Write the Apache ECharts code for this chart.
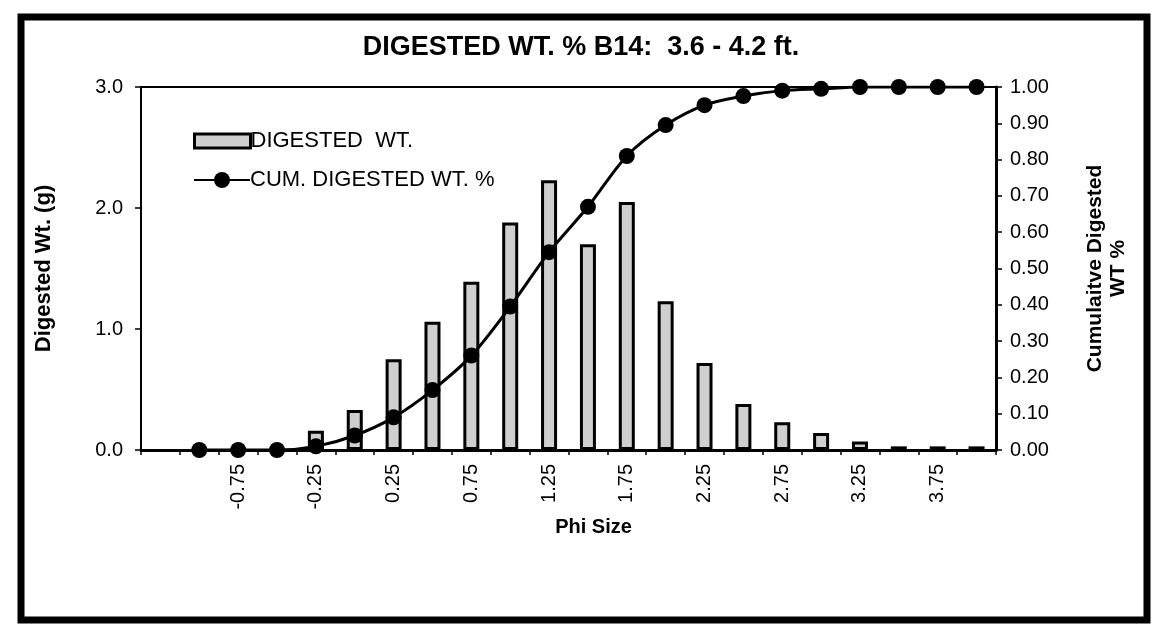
<!DOCTYPE html>
<html>
<head>
<meta charset="utf-8">
<script src="https://cdn.jsdelivr.net/npm/echarts@6/dist/echarts.min.js"></script>
<style>
html,body{margin:0;padding:0;background:#fff;}
#c{width:1160px;height:629px;}
</style>
</head>
<body>
<div id="c"></div>
<script>
// Phi size categories (first band is an empty category as in the source chart)
const categories = ['', '-1.00', '-0.75', '-0.50', '-0.25', '0.00', '0.25', '0.50', '0.75', '1.00', '1.25',
  '1.50', '1.75', '2.00', '2.25', '2.50', '2.75', '3.00', '3.25', '3.50', '3.75', '4.00'];
// Digested weight (g)
const digestedWt = [null, 0, 0, 0, 0.16, 0.33, 0.75, 1.06, 1.39, 1.88, 2.23,
  1.70, 2.05, 1.23, 0.72, 0.38, 0.23, 0.14, 0.07, 0.03, 0.03, 0.03];
// Cumulative digested weight fraction
const cumDigested = [null, 0, 0, 0, 0.01, 0.04, 0.09, 0.165, 0.26, 0.395, 0.545,
  0.67, 0.81, 0.895, 0.95, 0.975, 0.99, 0.995, 1.0, 1.0, 1.0, 1.0];
const leftTicks = ['0.0', '1.0', '2.0', '3.0'];
const rightTicks = ['0.00','0.10','0.20','0.30','0.40','0.50','0.60','0.70','0.80','0.90','1.00'];

const FONT = 'Liberation Sans, Arial, sans-serif';
const legendText = {fontFamily: FONT, fontSize: 22, color: '#000', padding: [0,0,0,-5]};
const chart = echarts.init(document.getElementById('c'), null, {renderer: 'canvas'});
chart.setOption({
  backgroundColor: '#ffffff',
  animation: false,
  title: {
    text: 'DIGESTED WT. % B14:  3.6 - 4.2 ft.',
    left: 576, top: 29, textAlign: 'center',
    textStyle: {fontFamily: FONT, fontWeight: 'bold', fontSize: 27, color: '#000'}
  },
  graphic: [{
    type: 'rect', z: 100,
    shape: {x: 21, y: 17, width: 1126, height: 603},
    style: {fill: 'none', stroke: '#000', lineWidth: 7}
  }],
  legend: [{
    left: 188, top: 125, itemWidth: 56, itemHeight: 14,
    textStyle: legendText,
    itemStyle: {borderWidth: 3, borderColor: '#000'},
    data: [{name: 'DIGESTED  WT.', icon: 'rect'}]
  }, {
    left: 188, top: 164, itemWidth: 56, itemHeight: 20,
    textStyle: legendText,
    data: [{name: 'CUM. DIGESTED WT. %'}]
  }],
  grid: {left: 141, right: 164, top: 87, bottom: 179, show: true, borderColor: '#000', borderWidth: 2},
  xAxis: {
    type: 'category', data: categories, boundaryGap: true,
    axisLine: {lineStyle: {color: '#000', width: 3}},
    axisTick: {show: true, interval: 0, length: 5, lineStyle: {color: '#000', width: 1.5}},
    axisLabel: {interval: 1, rotate: 90, margin: 14, fontFamily: FONT, fontSize: 20, color: '#000'},
    name: 'Phi Size', nameLocation: 'middle', nameGap: 57,
    nameTextStyle: {fontFamily: FONT, fontWeight: 'bold', fontSize: 20, color: '#000', padding: [0,0,0,50]}
  },
  yAxis: [{
    type: 'value', min: 0, max: 3, interval: 1, position: 'left',
    axisLine: {show: true, lineStyle: {color: '#000', width: 2}},
    axisTick: {show: true, length: 6, lineStyle: {color: '#000', width: 1.5}},
    splitLine: {show: false},
    axisLabel: {margin: 18, fontFamily: FONT, fontSize: 20, color: '#000',
      formatter: (v) => leftTicks[Math.round(v)]},
    name: 'Digested Wt. (g)', nameLocation: 'middle', nameGap: 86, nameRotate: 90,
    nameTextStyle: {fontFamily: FONT, fontWeight: 'bold', fontSize: 22, color: '#000'}
  }, {
    type: 'value', min: 0, max: 1, interval: 0.1, position: 'right',
    axisLine: {show: true, lineStyle: {color: '#000', width: 3}},
    axisTick: {show: true, length: 6, lineStyle: {color: '#000', width: 1.5}},
    splitLine: {show: false},
    axisLabel: {margin: 14, fontFamily: FONT, fontSize: 20, color: '#000',
      formatter: (v) => rightTicks[Math.round(v * 10)]},
    name: 'Cumulaitve Digested\nWT %', nameLocation: 'middle', nameGap: 88, nameRotate: 90,
    nameTextStyle: {fontFamily: FONT, fontWeight: 'bold', fontSize: 21, color: '#000', lineHeight: 23}
  }],
  series: [{
    name: 'DIGESTED  WT.', type: 'bar', data: digestedWt, barWidth: 16,
    itemStyle: {color: '#cfcfcf', borderColor: '#000', borderWidth: 3},
    z: 2
  }, {
    name: 'CUM. DIGESTED WT. %', type: 'line', yAxisIndex: 1, data: cumDigested,
    smooth: 0.3, symbol: 'circle', symbolSize: 16,
    lineStyle: {color: '#000', width: 3},
    itemStyle: {color: '#000'},
    z: 5
  }]
});
</script>
</body>
</html>
